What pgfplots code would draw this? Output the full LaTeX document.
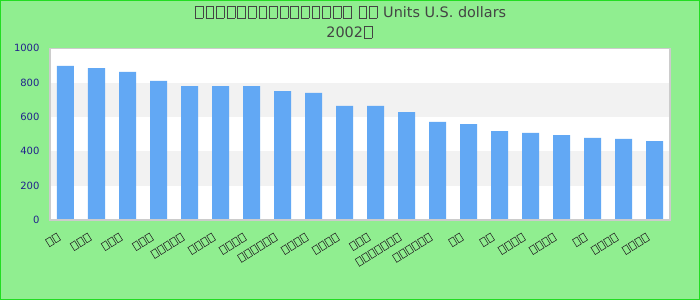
\documentclass[border=0pt]{standalone}
\usepackage{fontspec}
\setmainfont{DejaVu Sans}
\usepackage{pgfplots}
\pgfplotsset{compat=1.18}
\definecolor{bgc}{HTML}{90EE90}
\definecolor{framec}{HTML}{22DD22}
\definecolor{barc}{HTML}{62A8F4}
\definecolor{bandc}{HTML}{F2F2F2}
\definecolor{axisc}{HTML}{CCCCCC}
\definecolor{tickc}{HTML}{22228C}
\definecolor{titlec}{HTML}{444444}
\newcommand\tofu{\kern0.08em{\setlength{\fboxsep}{0pt}\setlength{\fboxrule}{0.55pt}\fbox{\rule{0pt}{0.8em}\rule{0.5em}{0pt}}}\kern0.08em}
\newcommand\tofus[1]{\foreach \ti in {1,...,#1}{\tofu}}
\begin{document}
\begin{tikzpicture}
\fill[bgc] (-50pt,-80pt) rectangle (650pt,220pt);
\draw[framec, line width=1.2pt] (-49.4pt,-79.4pt) rectangle (649.4pt,219.4pt);
\node[titlec, font=\fontsize{14.4}{18}\selectfont, anchor=base, inner sep=0pt] at (300pt,202pt) {\tofus{15} \tofus{2} Units U.S. dollars};
\node[titlec, font=\fontsize{14.4}{18}\selectfont, anchor=base, inner sep=0pt] at (300pt,182pt) {2002\tofu};
\begin{axis}[
  scale only axis, width=620pt, height=171.7pt,
  xmin=-0.5, xmax=19.5, ymin=0, ymax=1000,
  axis background/.style={fill=white},
  axis on top,
  axis line style={axisc, line width=1.3pt},
  major tick length=0pt,
  tick style={draw=none},
  ytick={0,200,400,600,800,1000},
  /pgf/number format/assume math mode=true,
  /pgf/number format/1000 sep={},
  yticklabel style={text=tickc, font=\fontsize{10}{12}\selectfont, xshift=-7pt},
  xtick={0,...,19},
  xticklabels={
    {\tofus{2}},{\tofus{3}},{\tofus{3}},{\tofus{3}},{\tofus{5}},
    {\tofus{4}},{\tofus{4}},{\tofus{6}},{\tofus{4}},{\tofus{4}},
    {\tofus{3}},{\tofus{7}},{\tofus{6}},{\tofus{2}},{\tofus{2}},
    {\tofus{4}},{\tofus{4}},{\tofus{2}},{\tofus{4}},{\tofus{4}}},
  xticklabel style={text=black!85, font=\fontsize{9.5}{11}\selectfont, inner sep=0pt, xshift=-8.5pt, yshift=-12pt, rotate=32, anchor=north east},
]
\fill[bandc] (axis cs:-0.5,200) rectangle (axis cs:19.5,400);
\fill[bandc] (axis cs:-0.5,600) rectangle (axis cs:19.5,800);
\addplot[ybar, fill=barc, draw=none, bar width=17pt] coordinates {
(0,897) (1,885) (2,862) (3,810) (4,780) (5,780) (6,780) (7,751) (8,740) (9,664)
(10,664) (11,629) (12,571) (13,559) (14,518) (15,507) (16,495) (17,478) (18,472) (19,460)
};
\end{axis}
\end{tikzpicture}
\end{document}
